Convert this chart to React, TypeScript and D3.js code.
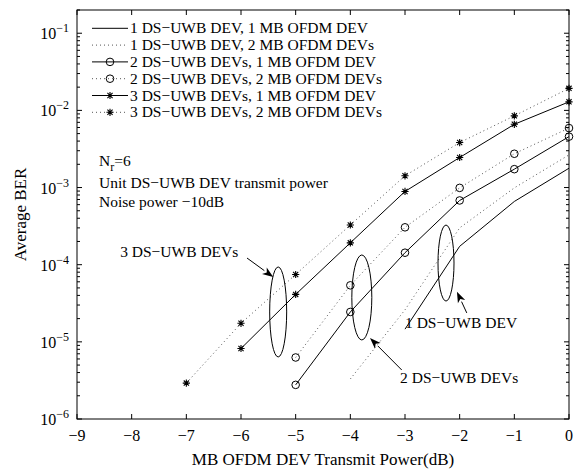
import React, { useEffect, useRef } from 'react';
import * as d3 from 'd3';

// x positions (MB OFDM DEV transmit power, dB)
const xTicks = [-9, -8, -7, -6, -5, -4, -3, -2, -1, 0];
const yDecades = [-6, -5, -4, -3, -2, -1];

const x1 = [-3, -2, -1, 0];
const ber1 = [1.46e-5, 1.73e-4, 6.6e-4, 1.78e-3];
const x2 = [-4, -3, -2, -1, 0];
const ber2 = [3.3e-6, 2.6e-5, 3.0e-4, 9.9e-4, 2.65e-3];
const x3 = [-5, -4, -3, -2, -1, 0];
const ber3 = [2.77e-6, 2.44e-5, 1.43e-4, 6.8e-4, 1.73e-3, 4.57e-3];
const x4 = [-5, -4, -3, -2, -1, 0];
const ber4 = [6.27e-6, 5.4e-5, 3.05e-4, 9.9e-4, 2.74e-3, 5.9e-3];
const x5 = [-6, -5, -4, -3, -2, -1, 0];
const ber5 = [8.2e-6, 4.12e-5, 1.92e-4, 8.9e-4, 2.45e-3, 6.6e-3, 1.29e-2];
const x6 = [-7, -6, -5, -4, -3, -2, -1, 0];
const ber6 = [2.92e-6, 1.74e-5, 7.46e-5, 3.27e-4, 1.42e-3, 3.83e-3, 8.5e-3, 1.93e-2];

const seriesNames = [
  '1 DS\u2212UWB DEV, 1 MB OFDM DEV',
  '1 DS\u2212UWB DEV, 2 MB OFDM DEVs',
  '2 DS\u2212UWB DEVs, 1 MB OFDM DEV',
  '2 DS\u2212UWB DEVs, 2 MB OFDM DEVs',
  '3 DS\u2212UWB DEVs, 1 MB OFDM DEV',
  '3 DS\u2212UWB DEVs, 2 MB OFDM DEVs',
];

// annotation groups: ellipse centre, arrow from/to (data units), label anchor
const groupLabels = ['3 DS\u2212UWB DEVs', '2 DS\u2212UWB DEVs', '1 DS\u2212UWB DEV'];
const ellipseX = [-5.32, -3.79, -2.25];
const ellipseY = [2.44e-5, 3.76e-5, 1.05e-4];
const arrowFromX = [-5.89, -3.06, -1.87];
const arrowFromY = [1.22e-4, 4.32e-6, 2.37e-5];
const arrowToX = [-5.41, -3.64, -2.05];
const arrowToY = [6.9e-5, 1.12e-5, 4.47e-5];
const labelX = [-8.21, -3.09, -3.0];
const labelY = [1.46e-4, 3.4e-6, 1.77e-5];

const notes = ['Unit DS\u2212UWB DEV transmit power', 'Noise power \u221210dB'];

const App = () => {
  const svgRef = useRef(null);

  useEffect(() => {
    document.body.style.margin = '0';
    const width = 575;
    const height = 474;
    const m = { left: 77, right: 6, top: 10, bottom: 55 };
    const font = '"Liberation Serif", "Times New Roman", serif';

    const svg = d3.select(svgRef.current);
    svg.selectAll('*').remove();
    svg.attr('width', width).attr('height', height).style('display', 'block');
    svg.append('rect').attr('width', width).attr('height', height).attr('fill', '#fff');

    const x = d3.scaleLinear().domain([-9, 0]).range([m.left, width - m.right]);
    const y = d3.scaleLog().domain([1e-6, 0.2]).range([height - m.bottom, m.top]);
    const [x0, xEnd] = x.range();
    const [yBot, yTop] = y.range();

    const g = svg.append('g');

    // frame
    g.append('rect')
      .attr('x', x0).attr('y', yTop)
      .attr('width', xEnd - x0).attr('height', yBot - yTop)
      .attr('fill', 'none').attr('stroke', '#000').attr('stroke-width', 1);

    // x ticks (bottom and top, inward)
    xTicks.forEach(t => {
      const px = x(t);
      g.append('line').attr('x1', px).attr('x2', px).attr('y1', yBot).attr('y2', yBot - 5).attr('stroke', '#000');
      g.append('line').attr('x1', px).attr('x2', px).attr('y1', yTop).attr('y2', yTop + 5).attr('stroke', '#000');
      g.append('text')
        .attr('x', px).attr('y', yBot + 22)
        .attr('text-anchor', 'middle')
        .style('font-family', font).style('font-size', '16px')
        .text(t < 0 ? '\u2212' + Math.abs(t) : String(t));
    });

    // y ticks (log): majors at decades, minors 2..9
    const minors = [];
    yDecades.forEach(d => {
      for (let k = 2; k <= 9; k++) {
        const v = k * Math.pow(10, d);
        if (v <= 0.2) minors.push(v);
      }
    });
    minors.forEach(v => {
      const py = y(v);
      g.append('line').attr('x1', x0).attr('x2', x0 + 3).attr('y1', py).attr('y2', py).attr('stroke', '#000');
      g.append('line').attr('x1', xEnd).attr('x2', xEnd - 3).attr('y1', py).attr('y2', py).attr('stroke', '#000');
    });
    yDecades.forEach(d => {
      const py = y(Math.pow(10, d));
      g.append('line').attr('x1', x0).attr('x2', x0 + 5).attr('y1', py).attr('y2', py).attr('stroke', '#000');
      g.append('line').attr('x1', xEnd).attr('x2', xEnd - 5).attr('y1', py).attr('y2', py).attr('stroke', '#000');
      const t = g.append('text')
        .attr('x', x0 - 8).attr('y', py + 6)
        .attr('text-anchor', 'end')
        .style('font-family', font).style('font-size', '16px');
      t.append('tspan').text('10');
      t.append('tspan').attr('dy', -7).style('font-size', '12px').text('\u2212' + Math.abs(d));
    });

    // axis titles
    g.append('text')
      .attr('x', (x0 + xEnd) / 2).attr('y', height - 9)
      .attr('text-anchor', 'middle')
      .style('font-family', font).style('font-size', '17px')
      .text('MB OFDM DEV Transmit Power(dB)');
    g.append('text')
      .attr('transform', `translate(26,${(yTop + yBot) / 2}) rotate(-90)`)
      .attr('text-anchor', 'middle')
      .style('font-family', font).style('font-size', '17px')
      .text('Average BER');

    const series = [
      { xs: x1, ys: ber1, dotted: false, marker: 'none' },
      { xs: x2, ys: ber2, dotted: true, marker: 'none' },
      { xs: x3, ys: ber3, dotted: false, marker: 'circle' },
      { xs: x4, ys: ber4, dotted: true, marker: 'circle' },
      { xs: x5, ys: ber5, dotted: false, marker: 'star' },
      { xs: x6, ys: ber6, dotted: true, marker: 'star' },
    ];

    const drawMarker = (sel, type, cx, cy) => {
      if (type === 'circle') {
        sel.append('circle').attr('cx', cx).attr('cy', cy).attr('r', 3.8)
          .attr('fill', 'none').attr('stroke', '#000').attr('stroke-width', 1);
      } else if (type === 'star') {
        const r = 3.6;
        const d = r * 0.72;
        const p = `M${cx - r},${cy}L${cx + r},${cy}M${cx},${cy - r}L${cx},${cy + r}` +
          `M${cx - d},${cy - d}L${cx + d},${cy + d}M${cx - d},${cy + d}L${cx + d},${cy - d}`;
        sel.append('path').attr('d', p).attr('stroke', '#000').attr('stroke-width', 1.1).attr('fill', 'none');
      }
    };

    const line = d3.line().x(d => x(d[0])).y(d => y(d[1]));

    series.forEach(s => {
      const pts = s.xs.map((v, i) => [v, s.ys[i]]);
      g.append('path')
        .attr('d', line(pts))
        .attr('fill', 'none')
        .attr('stroke', s.dotted ? '#555' : '#000')
        .attr('stroke-width', 1)
        .attr('stroke-dasharray', s.dotted ? '1 3' : null);
      pts.forEach(p => drawMarker(g, s.marker, x(p[0]), y(p[1])));
    });

    // legend
    const lgX = 92, lgY = 28.3, lgStep = 16.8;
    series.forEach((s, i) => {
      const ly = lgY + i * lgStep;
      g.append('line')
        .attr('x1', lgX).attr('x2', lgX + 36).attr('y1', ly).attr('y2', ly)
        .attr('stroke', s.dotted ? '#555' : '#000')
        .attr('stroke-dasharray', s.dotted ? '1 3' : null);
      drawMarker(g, s.marker, lgX + 18, ly);
      g.append('text')
        .attr('x', lgX + 38).attr('y', ly + 5)
        .style('font-family', font).style('font-size', '15.5px')
        .text(seriesNames[i]);
    });

    // parameter notes
    const nr = g.append('text').attr('x', 99).attr('y', 166)
      .style('font-family', font).style('font-size', '15.5px');
    nr.append('tspan').text('N');
    nr.append('tspan').attr('dy', 5).style('font-size', '12px').text('r');
    nr.append('tspan').attr('dy', -5).text('=6');
    notes.forEach((n, i) => {
      g.append('text').attr('x', 99).attr('y', 188 + i * 19)
        .style('font-family', font).style('font-size', '15.5px')
        .text(n);
    });

    // ellipses, arrows and group labels
    const rx = [8.5, 10, 8];
    const ry = [45, 42.5, 38];
    groupLabels.forEach((lab, i) => {
      g.append('ellipse')
        .attr('cx', x(ellipseX[i])).attr('cy', y(ellipseY[i]))
        .attr('rx', rx[i]).attr('ry', ry[i])
        .attr('fill', 'none').attr('stroke', '#000');
      const fx = x(arrowFromX[i]), fy = y(arrowFromY[i]);
      const tx = x(arrowToX[i]), ty = y(arrowToY[i]);
      const ang = Math.atan2(ty - fy, tx - fx);
      const hl = 11, hw = 4;
      const bx = tx - hl * Math.cos(ang), by = ty - hl * Math.sin(ang);
      g.append('line').attr('x1', fx).attr('y1', fy).attr('x2', bx).attr('y2', by).attr('stroke', '#000');
      g.append('path')
        .attr('d', `M${tx},${ty}L${bx + hw * Math.sin(ang)},${by - hw * Math.cos(ang)}` +
          `L${bx + 3 * Math.cos(ang)},${by + 3 * Math.sin(ang)}` +
          `L${bx - hw * Math.sin(ang)},${by + hw * Math.cos(ang)}Z`)
        .attr('fill', '#000');
      g.append('text')
        .attr('x', x(labelX[i])).attr('y', y(labelY[i]) + 5)
        .style('font-family', font).style('font-size', '15.5px')
        .text(lab);
    });
  }, []);

  return <svg ref={svgRef}></svg>;
};

export default App;
